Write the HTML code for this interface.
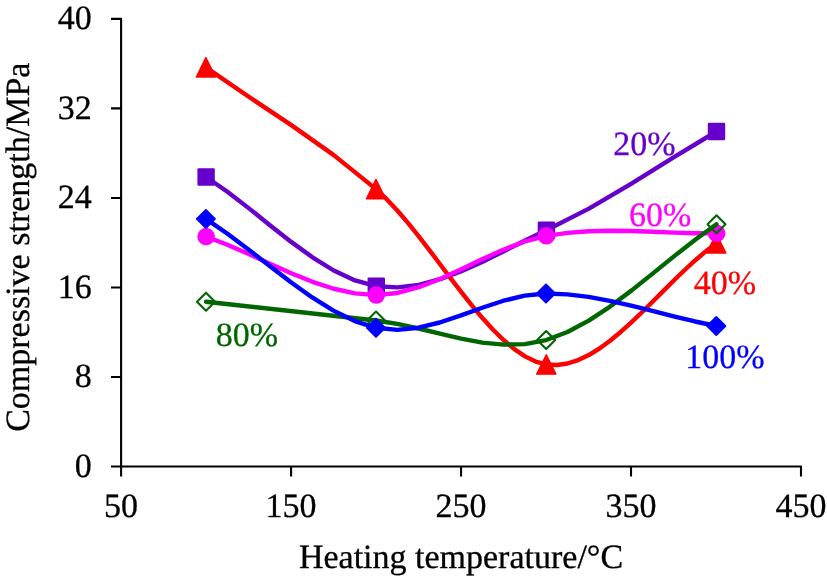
<!DOCTYPE html>
<html><head><meta charset="utf-8"><style>
html,body{margin:0;padding:0;background:#fff;}
svg{display:block;will-change:transform;}
text{font-family:"Liberation Serif",serif;font-size:34px;text-rendering:geometricPrecision;stroke-width:0.3px;}
</style></head><body>
<svg width="827" height="578" viewBox="0 0 827 578">
<path d="M111,18.90 H121.10 V466.50 H801.00 V476.5" fill="none" stroke="#000" stroke-width="2.1" stroke-linejoin="round"/>
<path d="M111.0,466.50 H121.1 M111.0,376.98 H121.1 M111.0,287.46 H121.1 M111.0,197.94 H121.1 M111.0,108.42 H121.1 M121.10,466.5 V476.5 M291.07,466.5 V476.5 M461.05,466.5 V476.5 M631.02,466.5 V476.5 " fill="none" stroke="#000" stroke-width="2.1"/>
<path d="M206.10,176.95 L227.38,191.74 L248.65,208.13 L269.93,225.18 L291.21,241.90 L312.48,257.33 L333.76,270.50 L355.03,280.45 L376.30,286.20 L397.57,287.41 L418.83,284.84 L440.09,279.22 L461.36,271.25 L482.62,261.66 L503.88,251.16 L525.14,240.47 L546.40,230.30 L588.92,208.62 L631.45,183.58 L673.97,157.21 L716.50,131.50" fill="none" stroke="#6600CC" stroke-width="4.40" stroke-linecap="round" stroke-linejoin="round"/>
<rect x="197.40" y="168.25" width="17.40" height="17.40" rx="1.1" fill="#6600CC"/>
<rect x="367.60" y="277.50" width="17.40" height="17.40" rx="1.1" fill="#6600CC"/>
<rect x="537.70" y="221.60" width="17.40" height="17.40" rx="1.1" fill="#6600CC"/>
<rect x="707.80" y="122.80" width="17.40" height="17.40" rx="1.1" fill="#6600CC"/>
<path d="M205.90,67.35 L248.42,96.53 L290.94,124.87 L333.46,154.89 L376.00,189.10 L386.64,199.13 L397.28,210.48 L407.92,222.90 L418.57,236.12 L429.21,249.89 L439.86,263.96 L450.51,278.07 L461.16,291.96 L471.80,305.38 L482.45,318.06 L493.10,329.76 L503.74,340.21 L514.38,349.17 L525.03,356.36 L535.66,361.55 L546.30,364.46 L556.93,365.03 L567.56,363.50 L578.19,360.09 L588.82,355.02 L599.45,348.50 L610.07,340.74 L620.70,331.98 L631.32,322.41 L641.94,312.27 L652.56,301.77 L663.19,291.12 L673.81,280.54 L684.43,270.25 L695.05,260.47 L705.68,251.42 L716.30,243.30" fill="none" stroke="#FF0000" stroke-width="4.40" stroke-linecap="round" stroke-linejoin="round"/>
<path d="M205.90,57.65 L215.50,77.05 L196.30,77.05 Z" fill="#FF0000" stroke="#FF0000" stroke-width="1.40" stroke-linejoin="round"/>
<path d="M376.00,179.40 L385.60,198.80 L366.40,198.80 Z" fill="#FF0000" stroke="#FF0000" stroke-width="1.40" stroke-linejoin="round"/>
<path d="M546.30,354.76 L555.90,374.16 L536.70,374.16 Z" fill="#FF0000" stroke="#FF0000" stroke-width="1.40" stroke-linejoin="round"/>
<path d="M716.30,233.60 L725.90,253.00 L706.70,253.00 Z" fill="#FF0000" stroke="#FF0000" stroke-width="1.40" stroke-linejoin="round"/>
<path d="M206.10,236.60 L227.38,244.72 L248.65,253.98 L269.93,263.71 L291.21,273.21 L312.49,281.79 L333.76,288.75 L355.03,293.42 L376.30,295.10 L397.56,292.94 L418.81,287.24 L440.05,279.01 L461.29,269.29 L482.54,259.09 L503.78,249.44 L525.04,241.35 L546.30,235.85 L567.57,232.82 L588.85,231.23 L610.14,230.74 L631.43,231.03 L652.72,231.76 L674.02,232.61 L695.31,233.23 L716.60,233.30" fill="none" stroke="#FF00FF" stroke-width="4.40" stroke-linecap="round" stroke-linejoin="round"/>
<circle cx="206.10" cy="236.60" r="8.75" fill="#FF00FF"/>
<circle cx="376.30" cy="295.10" r="8.75" fill="#FF00FF"/>
<circle cx="546.30" cy="235.85" r="8.75" fill="#FF00FF"/>
<circle cx="716.60" cy="233.30" r="8.75" fill="#FF00FF"/>
<path d="M206.00,301.70 L376.00,320.50 L397.26,323.83 L418.53,328.51 L439.81,333.72 L461.08,338.68 L482.36,342.60 L503.64,344.66 L524.92,344.08 L546.20,340.05 L567.48,332.06 L588.77,320.63 L610.06,306.55 L631.34,290.63 L652.63,273.65 L673.92,256.41 L695.21,239.69 L716.50,224.30" fill="none" stroke="#006600" stroke-width="4.40" stroke-linecap="round" stroke-linejoin="round"/>
<path d="M206.00,292.70 L215.00,301.70 L206.00,310.70 L197.00,301.70 Z" fill="none" stroke="#006600" stroke-width="2.1" stroke-linejoin="round"/>
<path d="M376.00,311.50 L385.00,320.50 L376.00,329.50 L367.00,320.50 Z" fill="none" stroke="#006600" stroke-width="2.1" stroke-linejoin="round"/>
<path d="M546.20,331.05 L555.20,340.05 L546.20,349.05 L537.20,340.05 Z" fill="none" stroke="#006600" stroke-width="2.1" stroke-linejoin="round"/>
<path d="M716.50,215.30 L725.50,224.30 L716.50,233.30 L707.50,224.30 Z" fill="none" stroke="#006600" stroke-width="2.1" stroke-linejoin="round"/>
<path d="M205.90,218.90 L227.16,233.49 L248.43,249.48 L269.69,266.03 L290.96,282.30 L312.22,297.45 L333.48,310.64 L354.74,321.04 L376.00,327.80 L397.25,329.91 L418.50,327.73 L439.74,322.49 L460.99,315.43 L482.23,307.76 L503.48,300.73 L524.74,295.57 L546.00,293.50 L567.27,294.37 L588.55,296.93 L609.84,300.79 L631.13,305.57 L652.42,310.88 L673.72,316.31 L695.01,321.48 L716.30,326.00" fill="none" stroke="#0000FF" stroke-width="4.40" stroke-linecap="round" stroke-linejoin="round"/>
<path d="M205.90,209.80 L215.00,218.90 L205.90,228.00 L196.80,218.90 Z" fill="#0000FF" stroke="#0000FF" stroke-width="1.80" stroke-linejoin="round"/>
<path d="M376.00,318.70 L385.10,327.80 L376.00,336.90 L366.90,327.80 Z" fill="#0000FF" stroke="#0000FF" stroke-width="1.80" stroke-linejoin="round"/>
<path d="M546.00,284.40 L555.10,293.50 L546.00,302.60 L536.90,293.50 Z" fill="#0000FF" stroke="#0000FF" stroke-width="1.80" stroke-linejoin="round"/>
<path d="M716.30,316.90 L725.40,326.00 L716.30,335.10 L707.20,326.00 Z" fill="#0000FF" stroke="#0000FF" stroke-width="1.80" stroke-linejoin="round"/>
<text transform="translate(91.80,476.70) scale(1,1.000)" text-anchor="end" stroke="#000">0</text>
<text transform="translate(91.80,387.18) scale(1,1.000)" text-anchor="end" stroke="#000">8</text>
<text transform="translate(91.80,297.66) scale(1,1.000)" text-anchor="end" stroke="#000">16</text>
<text transform="translate(91.80,208.14) scale(1,1.000)" text-anchor="end" stroke="#000">24</text>
<text transform="translate(91.80,118.62) scale(1,1.000)" text-anchor="end" stroke="#000">32</text>
<text transform="translate(91.80,29.10) scale(1,1.000)" text-anchor="end" stroke="#000">40</text>
<text transform="translate(121.10,517.20) scale(1,1.000)" text-anchor="middle" stroke="#000">50</text>
<text transform="translate(291.07,517.20) scale(1,1.000)" text-anchor="middle" stroke="#000">150</text>
<text transform="translate(461.05,517.20) scale(1,1.000)" text-anchor="middle" stroke="#000">250</text>
<text transform="translate(631.02,517.20) scale(1,1.000)" text-anchor="middle" stroke="#000">350</text>
<text transform="translate(801.00,517.20) scale(1,1.000)" text-anchor="middle" stroke="#000">450</text>
<text transform="translate(461.00,568.00) scale(1,1.000)" text-anchor="middle" stroke="#000">Heating temperature/°C</text>
<text transform="translate(28.60,247.20) rotate(-90) scale(1,1.000)" text-anchor="middle" stroke="#000">Compressive strength/MPa</text>
<text transform="translate(613.30,155.30) scale(1,1.000)" fill="#6600CC" stroke="#6600CC">20%</text>
<text transform="translate(629.00,226.20) scale(1,1.000)" fill="#FF00FF" stroke="#FF00FF">60%</text>
<text transform="translate(693.80,294.30) scale(1,1.000)" fill="#FF0000" stroke="#FF0000">40%</text>
<text transform="translate(215.80,345.60) scale(1,1.000)" fill="#006600" stroke="#006600">80%</text>
<text transform="translate(685.20,368.20) scale(1,1.000)" fill="#0000FF" stroke="#0000FF">100%</text>
</svg>
</body></html>
